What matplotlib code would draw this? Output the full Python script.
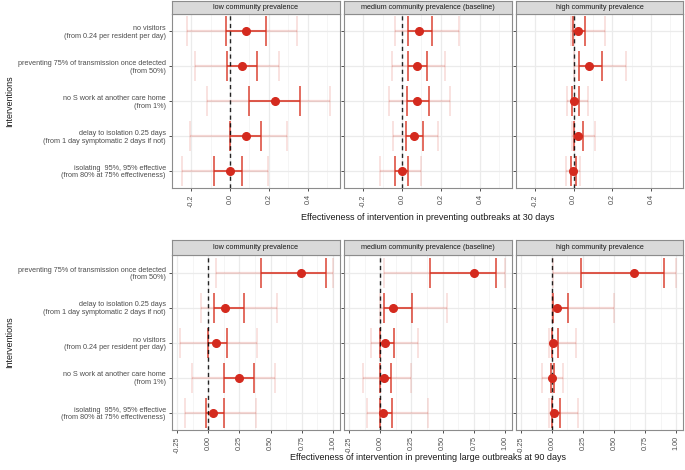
import matplotlib
matplotlib.use("Agg")
import matplotlib.pyplot as plt
import numpy as np

plt.rcParams['font.family'] = ['Liberation Sans', 'DejaVu Sans']

facets = ["low community prevalence", "medium community prevalence (baseline)", "high community prevalence"]
keys = ["low", "medium", "high"]

labels_30 = ["no visitors\n(from 0.24 per resident per day)",
             "preventing 75% of transmission once detected\n(from 50%)",
             "no S work at another care home\n(from 1%)",
             "delay to isolation 0.25 days\n(from 1 day symptomatic 2 days if not)",
             "isolating  95%, 95% effective\n(from 80% at 75% effectiveness)"]
labels_90 = ["preventing 75% of transmission once detected\n(from 50%)",
             "delay to isolation 0.25 days\n(from 1 day symptomatic 2 days if not)",
             "no visitors\n(from 0.24 per resident per day)",
             "no S work at another care home\n(from 1%)",
             "isolating  95%, 95% effective\n(from 80% at 75% effectiveness)"]

# outbreaks at 30 days
est30 = {"low": [0.083, 0.063, 0.233, 0.082, 0.0],
         "medium": [0.087, 0.077, 0.075, 0.060, 0.002],
         "high": [0.020, 0.079, 0.003, 0.020, -0.002]}
outer_lo30 = {"low": [-0.22, -0.18, -0.12, -0.208, -0.247],
              "medium": [-0.037, -0.05, -0.065, -0.047, -0.112],
              "high": [-0.015, 0.0, -0.035, -0.008, -0.04]}
outer_hi30 = {"low": [0.345, 0.253, 0.515, 0.292, 0.197],
              "medium": [0.292, 0.222, 0.248, 0.185, 0.10],
              "high": [0.16, 0.27, 0.074, 0.112, 0.035]}
inner_lo30 = {"low": [-0.023, -0.013, 0.095, 0.0, -0.08],
              "medium": [0.03, 0.03, 0.025, 0.018, -0.035],
              "high": [-0.002, 0.028, -0.007, 0.0, -0.013]}
inner_hi30 = {"low": [0.183, 0.137, 0.357, 0.158, 0.063],
              "medium": [0.153, 0.128, 0.138, 0.108, 0.033],
              "high": [0.059, 0.149, 0.025, 0.05, 0.01]}

# large outbreaks at 90 days
est90 = {"low": [0.74, 0.136, 0.064, 0.243, 0.037],
         "medium": [0.75, 0.099, 0.038, 0.030, 0.021],
         "high": [0.662, 0.040, 0.011, 0.0, 0.013]}
outer_lo90 = {"low": [0.061, -0.056, -0.225, -0.126, -0.184],
              "medium": [0.027, 0.0, -0.075, -0.134, -0.107],
              "high": [0.008, 0.0, -0.024, -0.078, -0.024]}
outer_hi90 = {"low": [1.0, 0.548, 0.388, 0.532, 0.38],
              "medium": [1.0, 0.536, 0.30, 0.247, 0.38],
              "high": [1.0, 0.499, 0.193, 0.091, 0.212]}
inner_lo90 = {"low": [0.42, 0.048, 0.0, 0.128, -0.021],
              "medium": [0.40, 0.03, 0.0, 0.0, -0.005],
              "high": [0.23, 0.008, 0.0, -0.008, 0.0]}
inner_hi90 = {"low": [0.94, 0.283, 0.15, 0.364, 0.123],
              "medium": [0.93, 0.252, 0.107, 0.086, 0.091],
              "high": [0.906, 0.131, 0.048, 0.016, 0.064]}

W, H = 685, 470
fig = plt.figure(figsize=(W / 100, H / 100), dpi=100)

RED = "#d7301f"
PTRED = "#d42a1e"
facet_x = [(172, 340), (344, 512), (516, 683)]
FS = 5.2


def fx(px):
    return px / W


def fy(py):
    return 1 - py / H


def draw_panel(strip_top, panel_top, panel_bot, labels, est, olo, ohi, ilo, ihi,
               xlim, ticks, ticklabels, minor, xtitle, title_y):
    n = len(labels)
    y = np.arange(n)
    for j, (k, (x0, x1)) in enumerate(zip(keys, facet_x)):
        ax = fig.add_axes([fx(x0), fy(panel_bot), fx(x1 - x0), (panel_bot - panel_top) / H])
        ax.set_xlim(*xlim)
        ax.set_ylim(n - 0.5, -0.5)
        for m in minor:
            ax.axvline(m, color="#f4f4f4", lw=0.6, zorder=0)
        for t in ticks:
            ax.axvline(t, color="#ebebeb", lw=0.9, zorder=0)
        for yy in y:
            ax.axhline(yy, color="#ebebeb", lw=0.9, zorder=0)
        e = np.array(est[k])
        # outer interval
        ax.errorbar(e, y, xerr=[e - np.array(olo[k]), np.array(ohi[k]) - e], fmt="none",
                    ecolor=RED, alpha=0.18, elinewidth=1.6, capsize=10.5, capthick=1.1, zorder=2)
        # inner interval
        ax.errorbar(e, y, xerr=[e - np.array(ilo[k]), np.array(ihi[k]) - e], fmt="none",
                    ecolor=RED, alpha=0.9, elinewidth=1.2, capsize=10.5, capthick=1.1, zorder=3)
        ax.axvline(0, color="black", lw=1.0, ls=(0, (3, 2.5)), zorder=4, alpha=0.85)
        ax.plot(e, y, "o", color=PTRED, ms=5.5, zorder=5)
        ax.set_xticks(ticks)
        ax.set_xticklabels(ticklabels, rotation=90, fontsize=FS, color="#4d4d4d")
        ax.set_yticks(y)
        if j == 0:
            ax.set_yticklabels(labels, fontsize=FS, color="#4d4d4d", linespacing=1.15)
        else:
            ax.set_yticklabels([])
        ax.tick_params(axis="both", length=2.5, width=0.6, color="#333333", pad=2)
        for s in ax.spines.values():
            s.set_color("#8c8c8c")
            s.set_linewidth(0.8)
        # strip
        sax = fig.add_axes([fx(x0), fy(panel_top), fx(x1 - x0), (panel_top - strip_top) / H])
        sax.set_facecolor("#d9d9d9")
        sax.set_xticks([])
        sax.set_yticks([])
        for s in sax.spines.values():
            s.set_color("#8c8c8c")
            s.set_linewidth(0.8)
        sax.text(0.5, 0.5, facets[j], ha="center", va="center", fontsize=FS, color="#1a1a1a",
                 transform=sax.transAxes)
    fig.text(fx(428), fy(title_y), xtitle, ha="center", va="center", fontsize=6.5, color="#1a1a1a")
    fig.text(fx(10), fy((panel_top + panel_bot) / 2), "Interventions", rotation=90, ha="center",
             va="center", fontsize=6.5, color="#1a1a1a")


draw_panel(1, 14, 188, labels_30, est30, outer_lo30, outer_hi30, inner_lo30, inner_hi30,
           (-0.298, 0.565), [-0.2, 0.0, 0.2, 0.4], ["-0.2", "0.0", "0.2", "0.4"],
           [-0.1, 0.1, 0.3, 0.5], "Effectiveness of intervention in preventing outbreaks at 30 days", 218)

draw_panel(240, 255, 430, labels_90, est90, outer_lo90, outer_hi90, inner_lo90, inner_hi90,
           (-0.29, 1.056), [-0.25, 0.0, 0.25, 0.5, 0.75, 1.0],
           ["-0.25", "0.00", "0.25", "0.50", "0.75", "1.00"],
           [-0.125, 0.125, 0.375, 0.625, 0.875], "Effectiveness of intervention in preventing large outbreaks at 90 days", 457)

fig.savefig("out.png", dpi=100)
